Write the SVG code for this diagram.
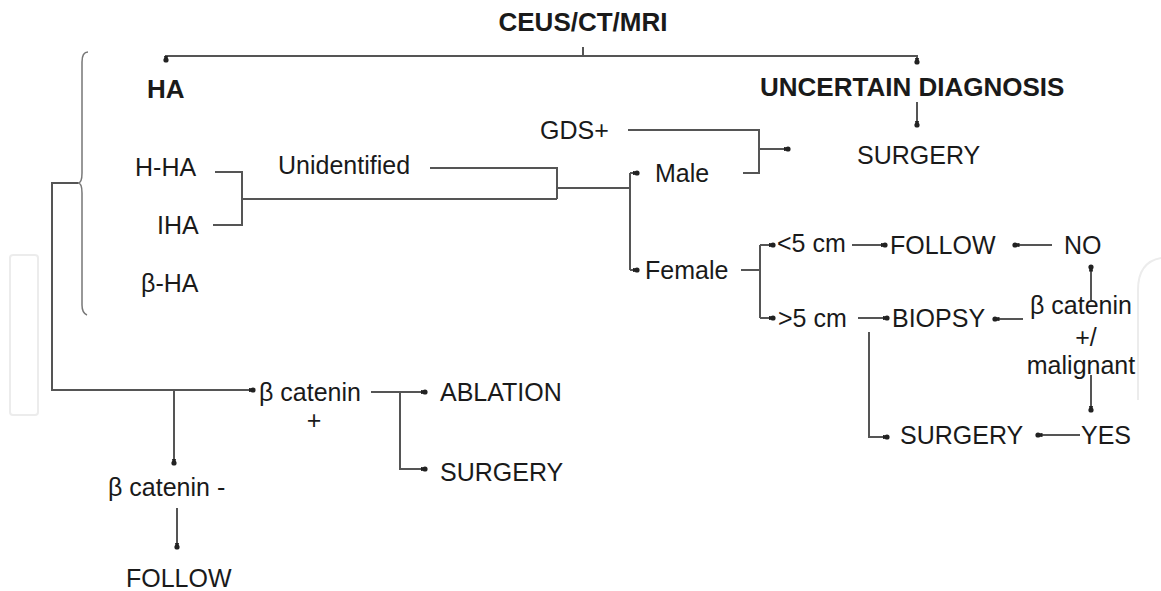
<svg xmlns="http://www.w3.org/2000/svg" width="1161" height="591" viewBox="0 0 1161 591">
<defs>
<style>
text{font-family:"Liberation Sans",Arial,sans-serif;font-size:25px;fill:#1a1a1a}
.b{font-weight:bold;font-size:26px}
.c{text-anchor:middle}
#connectors path{fill:none;stroke:#555;stroke-width:2}
#connectors path.a{marker-end:url(#ah)}
.wm{fill:none;stroke:#ececec;stroke-width:2}
</style>
<marker id="ah" markerWidth="8" markerHeight="7" refX="5.5" refY="3.5" orient="auto" markerUnits="userSpaceOnUse">
<path d="M0,1.5 L4,2 A1.6,1.6 0 0 1 4,5 L0,5.5 z" fill="#222"/>
<circle cx="4.5" cy="3.5" r="2.6" fill="#222"/>
</marker>
</defs>
<rect width="1161" height="591" fill="#fff"/>
<g id="watermark">
<rect class="wm" x="10" y="255" width="28" height="160" rx="3"/>
<path class="wm" d="M1161,258 Q1138,262 1138,290 V400"/>
</g>
<g id="connectors">
<path d="M583,47 V56"/>
<path d="M583,56 H166 V61" class="a"/>
<path d="M583,56 H917 V63" class="a"/>
<path d="M917,102 V126" class="a"/>
<path d="M628,130 H759 V173 H743"/>
<path d="M759,149 H789" class="a"/>
<path d="M215,172 H242 V225 H213"/>
<path d="M242,199 H557"/>
<path d="M430,168 H557 V199"/>
<path d="M557,188 H630"/>
<path d="M630,173 V270"/>
<path d="M630,173 H638" class="a"/>
<path d="M630,270 H638" class="a"/>
<path d="M741,270 H760"/>
<path d="M760,245 V318"/>
<path d="M760,245 H774" class="a"/>
<path d="M760,318 H774" class="a"/>
<path d="M852,245 H886" class="a"/>
<path d="M1052,245 H1014" class="a"/>
<path d="M858,318 H888" class="a"/>
<path d="M1023,319 H994" class="a"/>
<path d="M1091,300 V266" class="a"/>
<path d="M1091,375 V411" class="a"/>
<path d="M1080,435 H1037" class="a"/>
<path d="M869,332 V437 H888" class="a"/>
<path d="M88,52 Q82,52 82,62 V173 Q82,183 78,183 Q82,183 82,193 V305 Q82,313 87,315" style="stroke:#777;stroke-width:1.5"/>
<path d="M78,183 H52 V390 H254" class="a"/>
<path d="M174,390 V464" class="a"/>
<path d="M177,508 V548" class="a"/>
<path d="M371,392 H426" class="a"/>
<path d="M400,392 V469 H426" class="a"/>
</g>
<g id="n-ceus"><text class="b c" x="583" y="31">CEUS/CT/MRI</text></g>
<g id="n-ha"><text class="b" x="147" y="98">HA</text></g>
<g id="n-uncertain"><text class="b" x="760" y="96">UNCERTAIN DIAGNOSIS</text></g>
<g id="n-surgery1"><text x="857" y="164">SURGERY</text></g>
<g id="n-gds"><text x="540" y="139">GDS+</text></g>
<g id="n-male"><text x="655" y="182">Male</text></g>
<g id="n-hha"><text x="135" y="176">H-HA</text></g>
<g id="n-iha"><text x="157" y="234">IHA</text></g>
<g id="n-bha"><text x="141" y="292">β-HA</text></g>
<g id="n-unidentified"><text x="278" y="174">Unidentified</text></g>
<g id="n-female"><text x="645" y="279">Female</text></g>
<g id="n-lt5"><text x="777" y="252">&lt;5 cm</text></g>
<g id="n-gt5"><text x="778" y="327">&gt;5 cm</text></g>
<g id="n-follow1"><text x="890" y="254">FOLLOW</text></g>
<g id="n-no"><text x="1064" y="254">NO</text></g>
<g id="n-biopsy"><text x="892" y="327">BIOPSY</text></g>
<g id="n-bcat-mal"><text class="c" x="1081" y="314">β catenin</text><text class="c" x="1086" y="346">+/</text><text class="c" x="1081" y="374">malignant</text></g>
<g id="n-yes"><text x="1081" y="444">YES</text></g>
<g id="n-surgery2"><text x="900" y="444">SURGERY</text></g>
<g id="n-bcat-pos"><text x="259" y="401">β catenin</text><text class="c" x="314" y="429">+</text></g>
<g id="n-ablation"><text x="440" y="401">ABLATION</text></g>
<g id="n-surgery3"><text x="440" y="481">SURGERY</text></g>
<g id="n-bcat-neg"><text x="108" y="496">β catenin -</text></g>
<g id="n-follow2"><text x="126" y="587">FOLLOW</text></g>
</svg>
